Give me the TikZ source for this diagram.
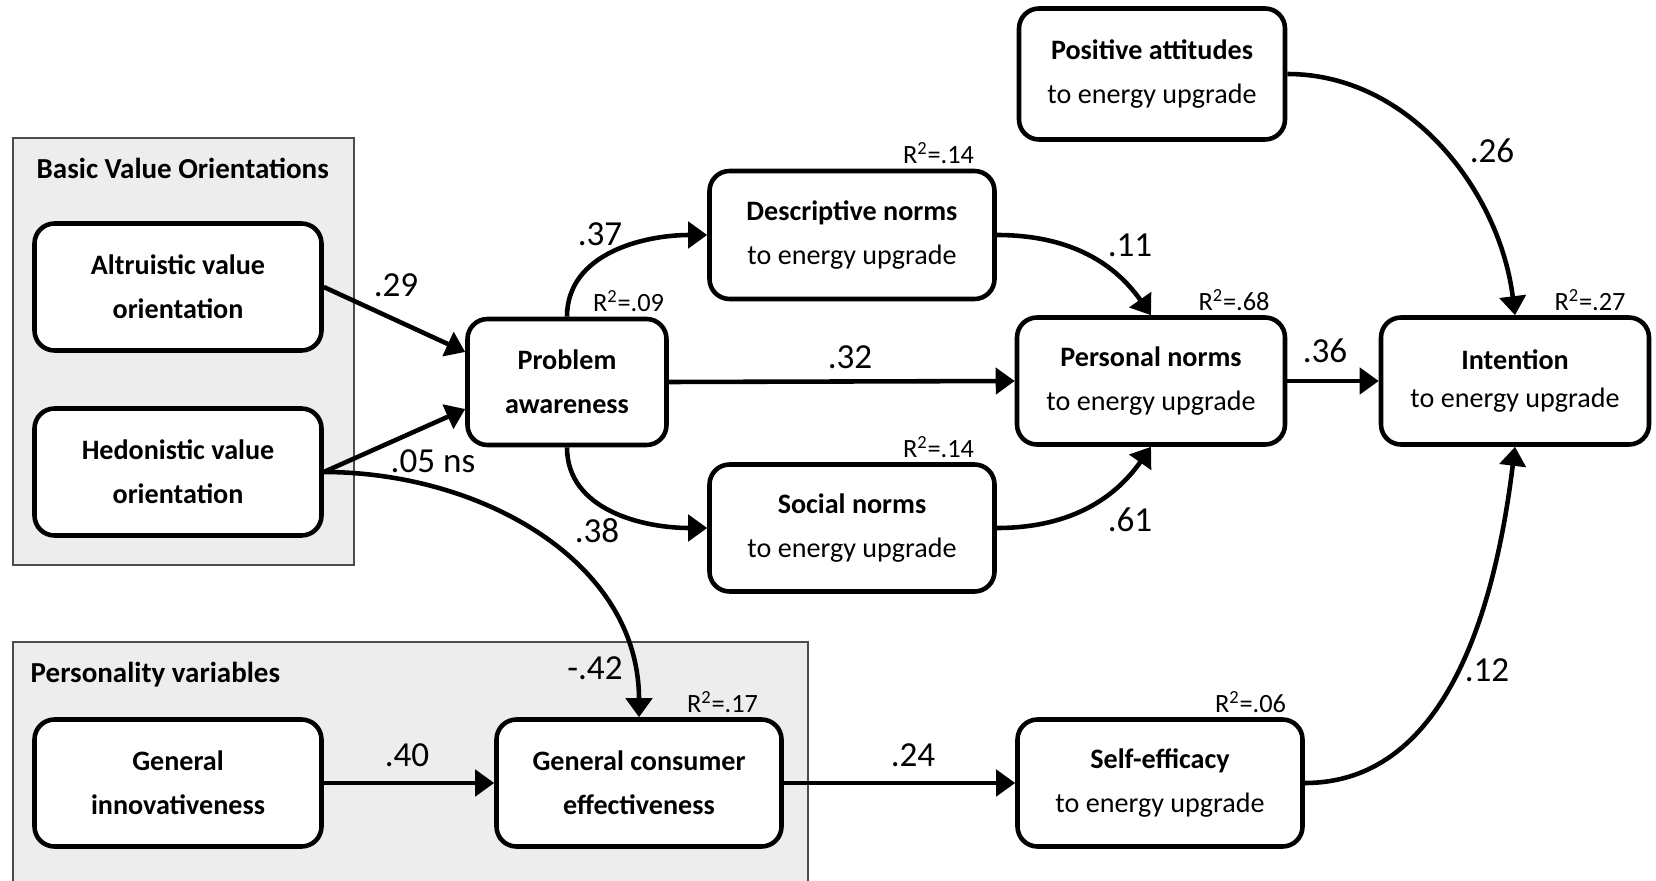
\documentclass[tikz,border=0pt]{standalone}
\usepackage{fontspec}
\setmainfont{Carlito}
\usetikzlibrary{arrows.meta,positioning}

\begin{document}
\begin{tikzpicture}[
    varbox/.style={rectangle, draw=black, fill=white, rounded corners=0.4cm,
                   line width=2.6pt, minimum width=5.7cm, minimum height=2.54cm,
                   align=center, font=\fontsize{16}{25}\selectfont, inner sep=2pt},
    boldbox/.style={varbox, font=\fontsize{16}{25}\selectfont\bfseries},
    groupbox/.style={rectangle, draw=black!70, fill=black!7, line width=0.8pt},
    grouplbl/.style={font=\fontsize{16.5}{19}\selectfont\bfseries, anchor=west},
    coeff/.style={font=\fontsize{20}{24}\selectfont},
    rsq/.style={font=\fontsize{15}{18}\selectfont, anchor=south east, inner sep=2.5pt},
    conn/.style={-{Triangle[length=0.38cm, width=0.52cm]}, line width=2.6pt}
  ]
    \useasboundingbox (0,0) rectangle (33.12,17.6);

    % --- Groups ---
    \node[groupbox, minimum width=6.82cm, minimum height=8.54cm] (basic) at (3.67,10.57) {};
    \node[grouplbl] (basictitle) at (0.61,14.24) {Basic Value Orientations};
    \node[groupbox, minimum width=15.9cm, minimum height=5.26cm] (personality) at (8.21,2.13) {};
    \node[grouplbl] (perstitle) at (0.49,4.1) {Personality variables};

    % --- Variables ---
    \node[boldbox, minimum width=5.74cm] (altru) at (3.56,11.86) {Altruistic value\\orientation};
    \node[boldbox, minimum width=5.74cm] (hedo) at (3.56,8.16) {Hedonistic value\\orientation};
    \node[boldbox, minimum width=5.74cm] (innov) at (3.56,1.94) {General\\innovativeness};
    \node[boldbox] (gce) at (12.78,1.94) {General consumer\\effectiveness};
    \node[boldbox, minimum width=3.98cm, minimum height=2.52cm] (prob) at (11.34,9.96) {Problem\\awareness};
    \node[varbox, minimum height=2.56cm] (desc) at (17.04,12.9) {{\bfseries Descriptive norms}\\to energy upgrade};
    \node[varbox] (soc) at (17.04,7.04) {{\bfseries Social norms}\\to energy upgrade};
    \node[varbox, minimum width=5.36cm] (pers) at (23.02,9.98) {{\bfseries Personal norms}\\to energy upgrade};
    \node[varbox, minimum width=5.32cm, minimum height=2.62cm] (posatt) at (23.04,16.12) {{\bfseries Positive attitudes}\\to energy upgrade};
    \node[varbox, minimum width=5.36cm, font=\fontsize{16}{22}\selectfont] (intent) at (30.3,9.98) {{\bfseries Intention}\\to energy upgrade};
    \node[varbox] (selfeff) at (23.2,1.94) {{\bfseries Self-efficacy}\\to energy upgrade};

    % R^2 values
    \node[rsq] (rprob) at (prob.north east) {R\textsuperscript{2}=.09};
    \node[rsq] (rdesc) at ([xshift=-0.36cm]desc.north east) {R\textsuperscript{2}=.14};
    \node[rsq] (rsoc) at ([xshift=-0.36cm]soc.north east) {R\textsuperscript{2}=.14};
    \node[rsq] (rpers) at ([xshift=-0.26cm]pers.north east) {R\textsuperscript{2}=.68};
    \node[rsq] (rintent) at ([xshift=-0.42cm]intent.north east) {R\textsuperscript{2}=.27};
    \node[rsq] (rgce) at ([xshift=-0.42cm]gce.north east) {R\textsuperscript{2}=.17};
    \node[rsq] (rselfeff) at ([xshift=-0.28cm]selfeff.north east) {R\textsuperscript{2}=.06};

    % --- Paths ---
    \draw[conn] (altru.east) -- ([yshift=0.6cm]prob.west);
    \draw[conn] (hedo.east) -- ([yshift=-0.54cm]prob.west);
    \draw[conn] (hedo.east) to[out=0, in=90] (gce.north);
    \draw[conn] (prob.north) to[out=90, in=180] (desc.west);
    \draw[conn] (prob.south) to[out=-90, in=180] (soc.west);
    \draw[conn] (prob.east) -- (pers.west);
    \draw[conn] (desc.east) to[out=0, in=125] (pers.north);
    \draw[conn] (soc.east) to[out=0, in=-125] (pers.south);
    \draw[conn] (pers.east) -- (intent.west);
    \draw[conn] (posatt.east) to[out=0, in=97, looseness=0.95] (intent.north);
    \draw[conn] (selfeff.east) to[out=0, in=-97, looseness=0.95] (intent.south);
    \draw[conn] (innov.east) -- (gce.west);
    \draw[conn] (gce.east) -- (selfeff.west);

    % Path coefficients
    \node[coeff] (c29) at (7.92,11.9) {.29};
    \node[coeff] (c05) at (8.66,8.38) {.05 ns};
    \node[coeff] (c37) at (12.0,12.92) {.37};
    \node[coeff] (c38) at (11.94,6.98) {.38};
    \node[coeff] (c32) at (17.0,10.46) {.32};
    \node[coeff] (c11) at (22.6,12.7) {.11};
    \node[coeff] (c61) at (22.6,7.2) {.61};
    \node[coeff] (c36) at (26.5,10.58) {.36};
    \node[coeff] (c26) at (29.84,14.58) {.26};
    \node[coeff] (c12) at (29.74,4.2) {.12};
    \node[coeff] (c42) at (11.9,4.24) {-.42};
    \node[coeff] (c40) at (8.14,2.5) {.40};
    \node[coeff] (c24) at (18.26,2.5) {.24};
\end{tikzpicture}
\end{document}
